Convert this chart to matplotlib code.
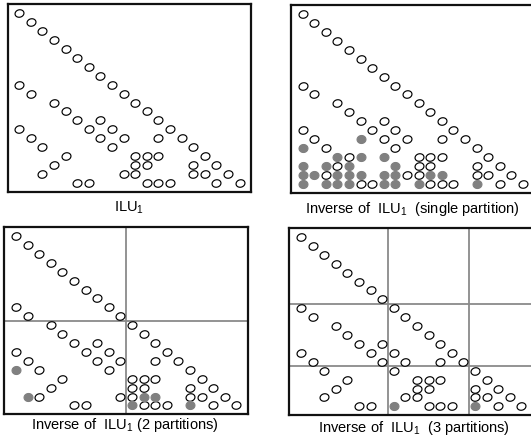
import numpy as np
import matplotlib
matplotlib.use("Agg")
import matplotlib.pyplot as plt
from matplotlib.path import Path

plt.rcParams['font.family'] = ['Liberation Sans', 'DejaVu Sans']
plt.rcParams['mathtext.fontset'] = 'custom'
plt.rcParams['mathtext.rm'] = 'Liberation Sans'
plt.rcParams['mathtext.it'] = 'Liberation Sans'

N = 20
# ILU(1) sparsity pattern (strictly lower part), row -> columns
lower_pattern = {
    8: [0], 9: [1], 10: [3], 11: [4], 12: [5, 7], 13: [0, 6, 8],
    14: [1, 7, 9, 12], 15: [2, 8], 16: [4, 10, 11, 12],
    17: [3, 10, 11, 15], 18: [2, 9, 10, 15, 16],
    19: [5, 6, 11, 12, 13, 17],
}
# fill-in entries of the inverse (filled grey)
fill_single = {
    14: [5], 15: [0], 16: [3, 5, 7], 17: [0, 2, 4, 8],
    18: [0, 1, 3, 4, 5, 7, 8, 11, 12],
    19: [0, 2, 3, 4, 7, 8, 10, 15],
}
fill_two = {15: [0], 18: [1, 11, 12], 19: [10, 15]}
fill_three = {19: [8, 15]}

part_two = [9.5]
part_three = [7.5, 14.5]

titles = [
    r"ILU$_1$",
    r"Inverse of  ILU$_1$  (single partition)",
    r"Inverse of  ILU$_1$ (2 partitions)",
    r"Inverse of  ILU$_1$  (3 partitions)",
]


def to_xy(d):
    rs, cs = [], []
    for r, cols in d.items():
        for c in cols:
            rs.append(r)
            cs.append(c)
    return np.array(cs), np.array(rs)


diag = np.arange(N)
pc, pr = to_xy(lower_pattern)
open_x = np.concatenate([diag, pc])
open_y = np.concatenate([diag, pr])


def ellipse_path(rx, ry, deg):
    t = np.linspace(0, 2 * np.pi, 41)
    ex, ey = rx * np.cos(t), ry * np.sin(t)
    a = np.deg2rad(deg)
    vx = ex * np.cos(a) - ey * np.sin(a)
    vy = ex * np.sin(a) + ey * np.cos(a)
    verts = np.column_stack([vx, vy])
    codes = [Path.MOVETO] + [Path.LINETO] * (len(verts) - 2) + [Path.CLOSEPOLY]
    return Path(verts, codes)


ell_open = ellipse_path(1.12, 0.92, 15)
ell_fill = ellipse_path(1.08, 0.97, 5)

W, H = 531, 440
fig = plt.figure(figsize=(W / 100, H / 100), dpi=100)

# (left, top) in pixels
boxes = [(7.7, 4.4), (291.0, 5.3), (4.4, 227.1), (289.4, 228.0)]
aw, ah = 243.5, 187.3
fills = [None, fill_single, fill_two, fill_three]
parts = [None, None, part_two, part_three]
label_pos = [(129, 208), (412, 209), (125, 425), (414, 428)]

for i in range(4):
    l, tp = boxes[i]
    ax = fig.add_axes([l / W, 1 - (tp + ah) / H, aw / W, ah / H])
    ax.set_xlim(-1, 20)
    ax.set_ylim(20, -1)
    ax.set_xticks([])
    ax.set_yticks([])
    for s in ax.spines.values():
        s.set_linewidth(1.6)
        s.set_color('#111111')
    if parts[i]:
        for p in parts[i]:
            ax.axvline(p, color='#8a8a8a', lw=1.3, zorder=1)
            ax.axhline(p, color='#8a8a8a', lw=1.3, zorder=1)
    fx, fy = (np.array([]), np.array([]))
    if fills[i]:
        fx, fy = to_xy(fills[i])
    ax.plot(open_x, open_y, linestyle='none', marker=ell_open, markersize=6.4,
            markerfacecolor='white', markeredgecolor='black',
            markeredgewidth=0.85, zorder=3)
    if len(fx):
        ax.plot(fx, fy, linestyle='none', marker=ell_fill, markersize=6.4,
                markerfacecolor='#808080', markeredgecolor='#808080',
                markeredgewidth=0.8, zorder=4)
    lx, ly = label_pos[i]
    fig.text(lx / W, 1 - ly / H, titles[i], ha='center', va='center',
             fontsize=10.5, color='black')

fig.savefig("out.png", dpi=100)
